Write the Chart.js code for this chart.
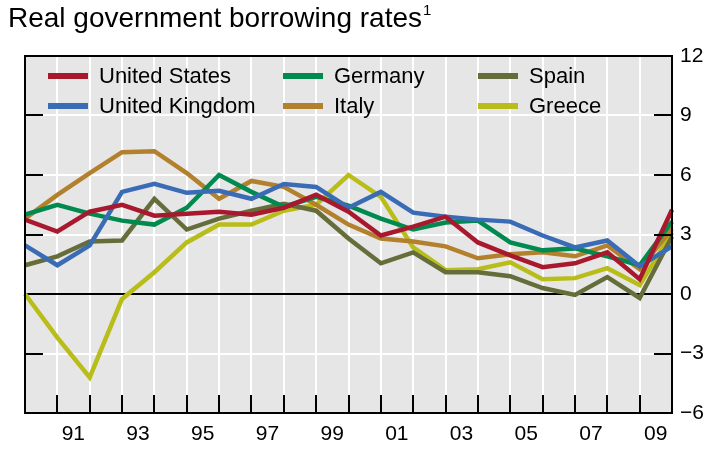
<!DOCTYPE html>
<html>
<head>
<meta charset="utf-8">
<script src="https://cdn.jsdelivr.net/npm/chart.js@4"></script>
<style>
    html, body { margin: 0; padding: 0; background: #fff; }
    #wrap { position: relative; width: 713px; height: 458px; }
    #title {
        position: absolute; left: 8px; top: 2px;
        font-family: 'Liberation Sans', Arial, sans-serif;
        font-size: 28px; color: #000; white-space: nowrap;
    }
    #title sup { font-size: 15px; position: relative; top: -2px; margin-left: 1px; }
</style>
</head>
<body>
<div id="wrap">
    <div id="title">Real government borrowing rates<sup>1</sup></div>
    <canvas id="chart"></canvas>
</div>
<script>
// annual observations, 1990 - 2010
const years = ['1990', '1991', '1992', '1993', '1994', '1995', '1996', '1997', '1998', '1999', '2000',
    '2001', '2002', '2003', '2004', '2005', '2006', '2007', '2008', '2009', '2010'];

const unitedStates = [3.75, 3.15, 4.15, 4.5, 3.95, 4.05, 4.15, 4.0, 4.35, 5.0, 4.15, 2.95, 3.4, 3.9, 2.6, 1.95, 1.35, 1.55, 2.1, 0.75, 4.25];
const unitedKingdom = [2.45, 1.45, 2.45, 5.15, 5.55, 5.1, 5.2, 4.8, 5.55, 5.4, 4.35, 5.15, 4.1, 3.9, 3.75, 3.65, 2.95, 2.35, 2.7, 1.4, 2.4];
const germany = [4.0, 4.5, 4.05, 3.7, 3.5, 4.35, 6.0, 5.15, 4.4, 4.9, 4.45, 3.8, 3.25, 3.6, 3.7, 2.6, 2.2, 2.3, 1.9, 1.45, 3.65];
const italy = [3.8, 5.0, 6.1, 7.15, 7.2, 6.1, 4.8, 5.7, 5.4, 4.5, 3.5, 2.8, 2.65, 2.4, 1.8, 2.0, 2.1, 1.9, 2.45, 1.25, 3.3];
const spain = [1.45, 1.9, 2.65, 2.7, 4.8, 3.25, 3.8, 4.2, 4.55, 4.2, 2.8, 1.55, 2.1, 1.1, 1.1, 0.9, 0.3, -0.05, 0.85, -0.2, 2.9];
const greece = [0.0, -2.2, -4.2, -0.25, 1.1, 2.6, 3.5, 3.5, 4.2, 4.5, 6.0, 4.9, 2.35, 1.2, 1.25, 1.6, 0.75, 0.8, 1.3, 0.45, 3.1];

const yTicks = [-6, -3, 0, 3, 6, 9, 12];

const FONT = "'Liberation Sans', Arial, sans-serif";

// legend grid: [label, column, row]
const legendLayout = [
    ['United States', 0, 0], ['Germany', 1, 0], ['Spain', 2, 0],
    ['United Kingdom', 0, 1], ['Italy', 1, 1], ['Greece', 2, 1],
];

const series = [
    { label: 'United States', data: unitedStates, color: '#a8192e' },
    { label: 'United Kingdom', data: unitedKingdom, color: '#3a6bb5' },
    { label: 'Germany', data: germany, color: '#008a50' },
    { label: 'Italy', data: italy, color: '#b3812d' },
    { label: 'Spain', data: spain, color: '#656e3a' },
    { label: 'Greece', data: greece, color: '#b9bd19' },
];

const framePlugin = {
    id: 'frame',
    beforeDraw(chart) {
        const { ctx, chartArea: a } = chart;
        ctx.save();
        ctx.fillStyle = '#e6e6e6';
        ctx.fillRect(a.left, a.top, a.right - a.left, a.bottom - a.top);
        ctx.restore();
    },
    afterDatasetsDraw(chart) {
        const { ctx, chartArea: a, scales } = chart;
        ctx.save();
        ctx.strokeStyle = '#000';
        ctx.lineWidth = 2;
        ctx.strokeRect(a.left, a.top, a.right - a.left, a.bottom - a.top);

        // inward tick marks
        ctx.beginPath();
        for (let i = 1; i < years.length - 1; i++) {
            const x = Math.round(scales.x.getPixelForValue(i));
            ctx.moveTo(x, a.bottom);
            ctx.lineTo(x, a.bottom - 18);
        }
        yTicks.forEach(v => {
            if (v === 0 || v === 12 || v === -6) return;
            const y = Math.round(scales.y.getPixelForValue(v));
            ctx.moveTo(a.left, y);
            ctx.lineTo(a.left + 18, y);
            ctx.moveTo(a.right, y);
            ctx.lineTo(a.right - 18, y);
        });
        ctx.stroke();

        // legend
        const colX = [a.left + 23, a.left + 258, a.left + 453];
        const rowY = [a.top + 20, a.top + 50];
        ctx.font = '22px ' + FONT;
        ctx.textBaseline = 'middle';
        ctx.fillStyle = '#000';
        legendLayout.forEach(([label, c, r]) => {
            const s = series.find(d => d.label === label);
            const x = colX[c], y = rowY[r];
            ctx.strokeStyle = s.color;
            ctx.lineWidth = 6;
            ctx.beginPath();
            ctx.moveTo(x, y);
            ctx.lineTo(x + 40, y);
            ctx.stroke();
            ctx.fillText(label, x + 51, y + 1);
        });
        ctx.restore();
    },
};

new Chart(document.getElementById('chart'), {
    type: 'line',
    data: {
        labels: years,
        datasets: series.map(s => ({
            label: s.label,
            data: s.data,
            borderColor: s.color,
            backgroundColor: s.color,
            borderWidth: 4.5,
            pointRadius: 0,
            tension: 0,
            borderJoinStyle: 'miter',
        })),
    },
    options: {
        responsive: true,
        maintainAspectRatio: false,
        animation: false,
        events: [],
        layout: { padding: { top: 56, left: 25, right: 0, bottom: 0 } },
        plugins: {
            legend: { display: false },
            tooltip: { enabled: false },
            title: { display: false },
        },
        scales: {
            x: {
                type: 'category',
                offset: false,
                border: { display: false },
                grid: { color: '#fff', lineWidth: 2, drawTicks: false },
                ticks: {
                    autoSkip: false,
                    maxRotation: 0,
                    padding: 9,
                    labelOffset: 16,
                    color: '#000',
                    font: { family: FONT, size: 21 },
                    callback: (v, i) => (i % 2 === 1 && i < years.length - 1) ? years[i].slice(2) : '',
                },
                afterFit: scale => { scale.height = 45; },
            },
            y: {
                position: 'right',
                min: -6,
                max: 12,
                border: { display: false },
                grid: {
                    drawTicks: false,
                    lineWidth: 2,
                    color: c => c.tick.value === 0 ? '#000' : '#fff',
                },
                afterBuildTicks: scale => { scale.ticks = yTicks.map(v => ({ value: v })); },
                ticks: {
                    padding: 8,
                    color: '#000',
                    font: { family: FONT, size: 21 },
                    callback: v => v < 0 ? '\u2212' + Math.abs(v) : String(v),
                },
                afterFit: scale => { scale.width = 41; },
            },
        },
    },
    plugins: [framePlugin],
});
</script>
</body>
</html>
